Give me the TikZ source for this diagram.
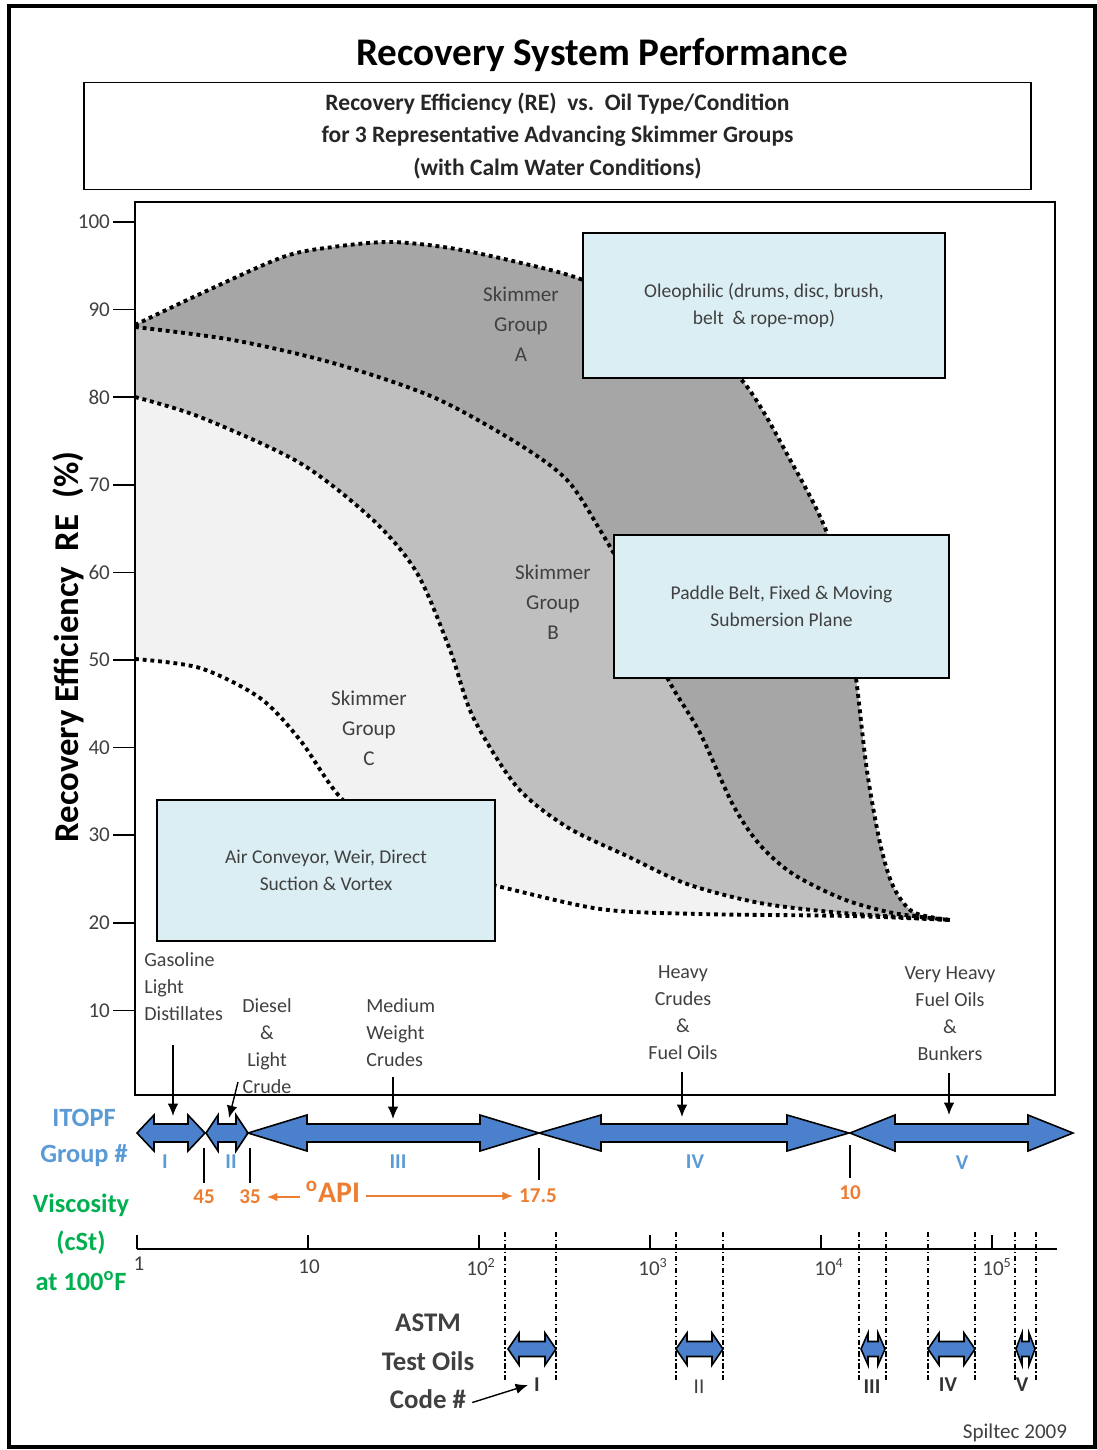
\documentclass[tikz,border=0pt]{standalone}
\usepackage{fontspec}
\setmainfont{Carlito}
\usetikzlibrary{arrows.meta,positioning}
\definecolor{boxblue}{RGB}{219,238,244}
\definecolor{arrowblue}{RGB}{74,128,204}
\definecolor{itopfblue}{RGB}{91,155,213}
\definecolor{viscgreen}{RGB}{0,176,80}
\definecolor{apiorange}{RGB}{237,125,49}
\definecolor{groupA}{RGB}{166,166,166}
\definecolor{groupB}{RGB}{191,191,191}
\definecolor{groupC}{RGB}{242,242,242}
\definecolor{textgray}{RGB}{64,64,64}
% double headed block arrow: x1, x2, y, head length, half head height, half shaft height
\newcommand{\dblarrow}[6]{\draw[blue arrow] (#1,#3) -- ++(#4,-#5) -- ++(0,#5-#6) -- (#2-#4,#3-#6) -- ++(0,#6-#5) -- (#2,#3) -- ++(-#4,#5) -- ++(0,#6-#5) -- (#1+#4,#3+#6) -- ++(0,#5-#6) -- cycle;}
\begin{document}
\begin{tikzpicture}[x=0.02cm, y=-0.02cm,
	infobox/.style={draw=black, line width=1.5pt, fill=boxblue, align=center, inner sep=0pt, text=textgray, font=\fontsize{11.1}{15.4}\selectfont},
	grouplabel/.style={align=center, text=textgray, font=\fontsize{12}{17}\selectfont},
	oillabel/.style={align=center, inner sep=0pt, text=textgray, font=\fontsize{11.4}{15.4}\selectfont},
	ticklabel/.style={inner sep=1pt, text=textgray, font=\fontsize{12}{14}\selectfont},
	curveline/.style={line width=2.2pt, dash pattern=on 2.2pt off 2.2pt},
	downarrow/.style={-{Latex[length=7pt,width=6pt]}, line width=0.8pt},
	apiarrow/.style={-{Latex[length=6pt,width=5pt]}, line width=1pt, draw=apiorange},
	blue arrow/.style={fill=arrowblue, draw=black, line width=0.9pt},
	astmline/.style={line width=0.9pt, dash pattern=on 3pt off 1.5pt on 0.8pt off 1.5pt},
	romanlabel/.style={text=itopfblue, font=\bfseries\fontsize{12}{14}\selectfont},
	apinum/.style={text=apiorange, font=\bfseries\fontsize{12}{14}\selectfont},
	itopflabel/.style={text=itopfblue, font=\bfseries\fontsize{15}{18}\selectfont},
	visclabel/.style={text=viscgreen, font=\bfseries\fontsize{15}{18}\selectfont},
	astmlabel/.style={text=textgray, font=\bfseries\fontsize{15.3}{17}\selectfont},
	codelabel/.style={text=black!80, font=\bfseries\fontsize{12}{14}\selectfont},
	]
	\useasboundingbox (0,0) rectangle (1096,1450);
	\draw[line width=1.8pt] (9,6) rectangle (1095,1447);

	% title and heading box
	\node[font=\bfseries\fontsize{22.3}{26}\selectfont] (title) at (602,55) {Recovery System Performance};
	\node[draw, line width=0.9pt, minimum width=18.94cm, minimum height=2.14cm, align=center, text=black!85, font=\bfseries\fontsize{13.4}{18.3}\selectfont] (heading) at (557.5,136) {Recovery Efficiency (RE)\ \ vs.\ \ Oil Type/Condition\\for 3 Representative Advancing Skimmer Groups\\(with Calm Water Conditions)};

	% skimmer group curves
	\def\curveA{plot[smooth] coordinates {(135,325) (200,294) (283,257) (333,247) (390,242) (450,248) (517,262) (583,280) (660,318) (740,378) (793,465) (827,533) (847,610) (857,686) (867,771) (880,843) (893,886) (913,912) (950,920)}}
	\def\curveB{plot[smooth] coordinates {(135,327) (233,340) (333,363) (433,397) (517,443) (567,480) (600,530) (625,575) (645,630) (670,683) (700,733) (733,805) (760,845) (793,874) (843,899) (893,913) (950,920)}}
	\def\curveC{plot[smooth] coordinates {(135,397) (200,417) (300,463) (373,520) (417,573) (450,650) (473,717) (517,787) (567,827) (627,856) (687,884) (760,903) (843,913) (950,920)}}
	\def\curveD{plot[smooth] coordinates {(135,659) (200,668) (260,698) (300,740) (340,797) (400,850) (460,877) (497,886) (600,909) (700,914) (850,916) (950,920)}}
	\fill[groupA] \curveA -- (950,1095) -- (135,1095) -- cycle;
	\fill[groupB] \curveB -- (950,1095) -- (135,1095) -- cycle;
	\fill[groupC] \curveC -- (950,1095) -- (135,1095) -- cycle;
	\fill[white] \curveD -- (965,920) -- (965,1095) -- (135,1095) -- cycle;
	\draw[curveline] \curveA;
	\draw[curveline] \curveB;
	\draw[curveline] \curveC;
	\draw[curveline] \curveD;
	\draw[line width=1.2pt] (135,202) rectangle (1055,1095);

	% y axis
	\foreach \val in {10,20,...,100}{
		\draw[line width=1pt] (113,{222+(100-\val)*8.76}) -- (135,{222+(100-\val)*8.76});
		\node[ticklabel, anchor=east] (ylab\val) at (112,{222+(100-\val)*8.76}) {\val};
	}
	\node[rotate=90, font=\bfseries\fontsize{19.8}{22}\selectfont] (yaxis) at (68,647) {Recovery Efficiency\ \ RE\ \ (\%)};

	\node[grouplabel] (grpA) at (521,324) {Skimmer\\Group\\A};
	\node[grouplabel] (grpB) at (553,602) {Skimmer\\Group\\B};
	\node[grouplabel] (grpC) at (369,728) {Skimmer\\Group\\C};

	\node[infobox, minimum width=7.24cm, minimum height=2.9cm] (oleo) at (764,305.5) {Oleophilic (drums, disc, brush,\\belt\ \ \& rope-mop)};
	\node[infobox, minimum width=6.7cm, minimum height=2.86cm] (paddle) at (781.5,606.5) {Paddle Belt, Fixed \& Moving\\Submersion Plane};
	\node[infobox, minimum width=6.76cm, minimum height=2.82cm] (airbox) at (326,870.5) {Air Conveyor, Weir, Direct\\Suction \& Vortex};

	% oil types
	\node[oillabel, align=left, anchor=west] (gasoline) at (144,987) {Gasoline\\Light\\Distillates};
	\node[oillabel] (diesel) at (267,1046) {Diesel\\\&\\Light\\Crude};
	\node[oillabel, align=left, anchor=west] (medium) at (366,1033) {Medium\\Weight\\Crudes};
	\node[oillabel] (heavy) at (683,1013) {Heavy\\Crudes\\\&\\Fuel Oils};
	\node[oillabel] (veryheavy) at (950,1014) {Very Heavy\\Fuel Oils\\\&\\Bunkers};

	% ITOPF groups
	\dblarrow{137}{205}{1133}{17}{18}{9}
	\dblarrow{206}{248}{1133}{12}{18}{9}
	\dblarrow{248}{539}{1133}{59}{18}{9}
	\dblarrow{539}{849}{1133}{62}{18}{9}
	\dblarrow{850}{1073}{1133}{45}{18}{9}
	\coordinate (sII) at (238,1082);
	\coordinate (tI) at (173,1116);
	\coordinate (tII) at (229,1118);
	\coordinate (tIII) at (393,1119);
	\coordinate (tIV) at (682,1117);
	\coordinate (tV) at (949,1115);
	\draw[downarrow] (tI |- gasoline.south) ++(0,24) -- (tI);
	\draw[downarrow] (sII) -- (tII);
	\draw[downarrow] (tIII |- medium.south) ++(0,10) -- (tIII);
	\draw[downarrow] (tIV |- heavy.south) ++(0,12) -- (tIV);
	\draw[downarrow] (tV |- veryheavy.south) ++(0,12) -- (tV);

	\node[romanlabel] (romI) at (165,1162) {I};
	\node[romanlabel] (romII) at (231,1162) {II};
	\node[romanlabel] (romIII) at (398,1162) {III};
	\node[romanlabel] (romIV) at (695,1162) {IV};
	\node[romanlabel] (romV) at (962,1163) {V};
	\node[itopflabel] (itopf) at (84,1118) {ITOPF};
	\node[itopflabel] (groupno) at (84,1156) {Group \#};

	% API gravity
	\draw[line width=1pt] (204,1148) -- (204,1183);
	\draw[line width=1pt] (250,1148) -- (250,1183);
	\draw[line width=1pt] (539,1148) -- (539,1180);
	\draw[line width=1pt] (850,1145) -- (850,1178);
	\node[apinum] (api45) at (204,1197) {45};
	\node[apinum] (api35) at (250,1197) {35};
	\node[apinum] (api175) at (538,1196) {17.5};
	\node[apinum] (api10) at (850,1193) {10};
	\node[text=apiorange, font=\bfseries\fontsize{17}{20}\selectfont] (api) at (333,1192) {\textsuperscript{o}API};
	\draw[apiarrow] (api.west |- api35) -- (api35.east);
	\draw[apiarrow] (api.east |- api175) -- (api175.west);

	% viscosity scale
	\node[visclabel] (visc) at (81,1205) {Viscosity};
	\node[visclabel] (cst) at (81,1243) {(cSt)};
	\node[visclabel] (at100) at (81,1281) {at 100\textsuperscript{o}F};
	\draw[line width=0.9pt] (137,1249) -- (1057,1249);
	\foreach \i in {0,...,5}
		\draw[line width=0.9pt] ({137+171*\i},1249) -- ({137+171*\i},1235);
	\node[ticklabel] (v1) at (139,1264) {1};
	\node[ticklabel] (v10) at (309,1267) {10};
	\node[ticklabel] (v100) at (481,1267) {10\textsuperscript{2}};
	\node[ticklabel] (v1000) at (653,1267) {10\textsuperscript{3}};
	\node[ticklabel] (v10000) at (829,1267) {10\textsuperscript{4}};
	\node[ticklabel] (v100000) at (997,1267) {10\textsuperscript{5}};

	% ASTM test oils
	\foreach \xa/\xb in {505/556, 676/723, 859/886, 928/975, 1015/1036}{
		\draw[astmline] (\xa,1232) -- (\xa,1380);
		\draw[astmline] (\xb,1232) -- (\xb,1380);
	}
	\dblarrow{508}{556}{1349}{11}{16}{7.5}
	\dblarrow{676}{723}{1349}{11}{16}{7.5}
	\dblarrow{861}{885}{1349}{7}{16}{7.5}
	\dblarrow{928}{975}{1349}{11}{16}{7.5}
	\dblarrow{1016}{1035}{1349}{6}{16}{7.5}
	\node[codelabel] (astmI) at (537,1385) {I};
	\node[ticklabel] (astmII) at (699,1387) {II};
	\node[codelabel] (astmIII) at (872,1387) {III};
	\node[codelabel] (astmIV) at (948,1385) {IV};
	\node[codelabel] (astmV) at (1022,1385) {V};
	\node[astmlabel] (astm) at (428,1323) {ASTM};
	\node[astmlabel] (testoils) at (428,1361) {Test Oils};
	\node[astmlabel] (code) at (428,1399) {Code \#};
	\draw[downarrow] ([yshift=-2pt]code.east) -- (astmI.west);

	\node[ticklabel] (credit) at (1015,1433) {Spiltec 2009};
\end{tikzpicture}
\end{document}
